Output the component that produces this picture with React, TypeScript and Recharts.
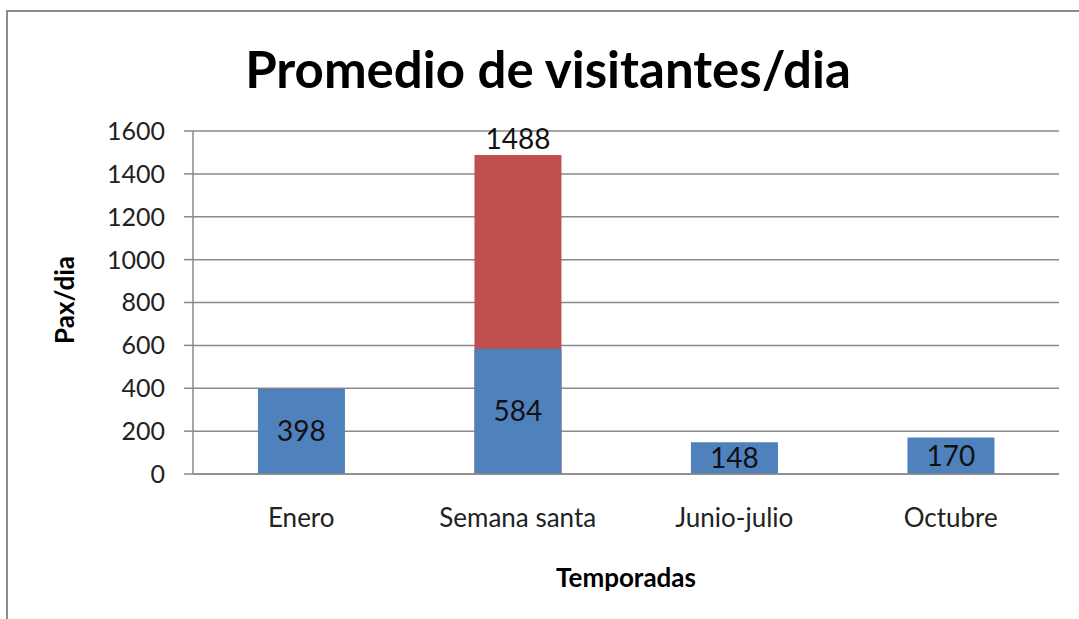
import { BarChart, Bar, XAxis, YAxis, CartesianGrid, LabelList } from 'recharts'

const temporadas = ['Enero', 'Semana santa', 'Junio-julio', 'Octubre']
const promedio = [398, 584, 148, 170]
const pico = [null, 1488, null, null]
const yTicks = [0, 200, 400, 600, 800, 1000, 1200, 1400, 1600]

const data = temporadas.map((t, i) => ({ temporada: t, promedio: promedio[i], pico: pico[i] }))

const FONT = 'Lato, "Open Sans", sans-serif'
const GRID = '#8a8a8a'

export default function App() {
  return (
    <div style={{ position: 'absolute', left: 0, top: 0, width: 1079, height: 619, background: '#fff', fontFamily: FONT }}>
      <div
        style={{
          position: 'absolute',
          left: 6,
          top: 10,
          width: 1100,
          height: 640,
          borderLeft: '2px solid #8c8c8c',
          borderTop: '2px solid #8c8c8c',
        }}
      />
      <div
        style={{
          position: 'absolute',
          left: 548,
          top: 68,
          transform: 'translate(-50%, -50%)',
          fontSize: 51,
          fontWeight: 700,
          color: '#000',
          whiteSpace: 'nowrap',
        }}
      >
        Promedio de visitantes/dia
      </div>
      <div
        style={{
          position: 'absolute',
          left: 64,
          top: 300,
          transform: 'translate(-50%, -50%) rotate(-90deg)',
          fontSize: 26,
          fontWeight: 700,
          whiteSpace: 'nowrap',
        }}
      >
        Pax/dia
      </div>
      <div
        style={{
          position: 'absolute',
          left: 626,
          top: 577,
          transform: 'translate(-50%, -50%)',
          fontSize: 26,
          fontWeight: 700,
          whiteSpace: 'nowrap',
        }}
      >
        Temporadas
      </div>
      <div style={{ position: 'absolute', left: 0, top: 0 }}>
        <BarChart
          width={1079}
          height={619}
          data={data}
          margin={{ top: 131, right: 20, bottom: 0, left: 0 }}
          barCategoryGap="30%"
        >
          <CartesianGrid vertical={false} stroke={GRID} strokeWidth={1.5} />
          <XAxis xAxisId="back" dataKey="temporada" hide height={0} />
          <XAxis
            xAxisId="front"
            dataKey="temporada"
            height={145}
            tickLine={false}
            tickSize={0}
            tickMargin={35}
            axisLine={{ stroke: GRID, strokeWidth: 1.5 }}
            tick={{ fontSize: 26, fill: '#222', fontFamily: FONT }}
          />
          <YAxis
            width={193}
            domain={[0, 1600]}
            ticks={yTicks}
            interval={0}
            tickSize={9}
            tickMargin={19}
            axisLine={{ stroke: GRID, strokeWidth: 1.5 }}
            tickLine={{ stroke: GRID, strokeWidth: 1.5 }}
            tick={{ fontSize: 25, fill: '#222', fontFamily: FONT }}
          />
          <Bar xAxisId="back" dataKey="pico" fill="#C0504D" isAnimationActive={false}>
            <LabelList
              dataKey="pico"
              position="top"
              offset={6}
              formatter={(v: any) => (v == null ? '' : v)}
              style={{ fontSize: 28, fill: '#111', fontFamily: FONT }}
            />
          </Bar>
          <Bar xAxisId="front" dataKey="promedio" fill="#4F81BD" isAnimationActive={false}>
            <LabelList
              dataKey="promedio"
              position="center"
              style={{ fontSize: 28, fill: '#111', fontFamily: FONT }}
            />
          </Bar>
        </BarChart>
      </div>
    </div>
  )
}
